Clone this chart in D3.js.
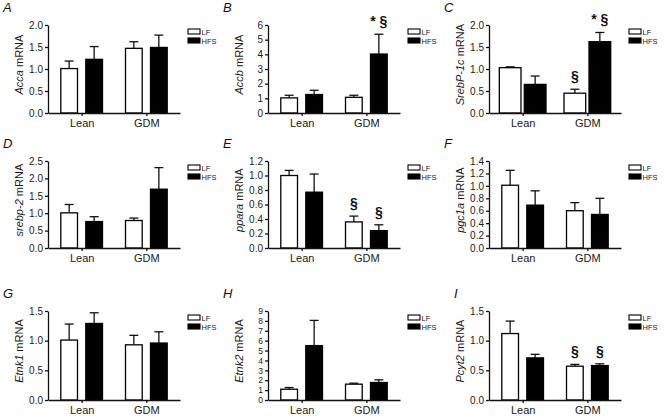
<!DOCTYPE html>
<html>
<head>
<meta charset="utf-8">
<script src="https://cdn.jsdelivr.net/npm/d3@7"></script>
<style>
  body { margin: 0; background: #fff; }
  svg { font-family: "Liberation Sans", Arial, sans-serif; }
  .axis path, .axis line { stroke: #111; stroke-width: 1.3; }
  .axis text { fill: #1a1a1a; font-size: 10px; }
</style>
</head>
<body>
<div id="viz"></div>
<script>
// chart values
var letters = ['A', 'B', 'C', 'D', 'E', 'F', 'G', 'H', 'I'];
var genes = ['Acca', 'Accb', 'SrebP-1c', 'srebp-2', 'ppara', 'pgc1a', 'Etnk1', 'Etnk2', 'Pcyt2'];
var groups = ['Lean', 'GDM'];
var series = ['LF', 'HFS'];
var yMax = [2, 6, 2, 2.5, 1.2, 1.4, 1.5, 9, 1.5];
var yStep = [0.5, 1, 0.5, 0.5, 0.2, 0.2, 0.5, 1, 0.5];
var yFmt = ['.1f', 'd', '.1f', '.1f', '.1f', '.1f', '.1f', 'd', '.1f'];

// [Lean, GDM] for each panel
var lfMean = [[1.01, 1.47], [1.03, 1.07], [1.03, 0.45], [1.01, 0.79], [1.0, 0.36], [1.01, 0.60], [1.01, 0.93], [1.09, 1.60], [1.12, 0.57]];
var lfSem  = [[0.17, 0.15], [0.18, 0.14], [0.02, 0.09], [0.24, 0.07], [0.07, 0.08], [0.24, 0.13], [0.27, 0.16], [0.17, 0.10], [0.21, 0.03]];
var hfsMean = [[1.22, 1.49], [1.26, 4.02], [0.65, 1.62], [0.76, 1.69], [0.77, 0.24], [0.69, 0.54], [1.29, 0.96], [5.5, 1.77], [0.71, 0.58]];
var hfsSem  = [[0.29, 0.28], [0.29, 1.35], [0.19, 0.21], [0.14, 0.62], [0.25, 0.08], [0.23, 0.26], [0.18, 0.19], [2.55, 0.27], [0.06, 0.03]];

// significance marks: [panel, group, series, text]
var marks = [
  [1, 'GDM', 'HFS', '* §'],
  [2, 'GDM', 'LF', '§'],
  [2, 'GDM', 'HFS', '* §'],
  [4, 'GDM', 'LF', '§'],
  [4, 'GDM', 'HFS', '§'],
  [8, 'GDM', 'LF', '§'],
  [8, 'GDM', 'HFS', '§']
];

var W = 665, H = 417;
var colX = [48, 268, 489];
var rowY = [[25, 113], [161, 248], [311, 400]];
var plotW = 132;

var svg = d3.select('#viz').append('svg')
  .attr('width', W)
  .attr('height', H);

letters.forEach(function(letter, i) {
  var x0 = colX[i % 3],
      yTop = rowY[Math.floor(i / 3)][0],
      yBot = rowY[Math.floor(i / 3)][1];
  var bw = i === 2 ? 23 : 18,
      gap = i === 2 ? 2 : 7;

  var g = svg.append('g');

  var xScale = d3.scalePoint()
    .domain(groups)
    .range([x0, x0 + plotW])
    .padding(0.52);

  var yScale = d3.scaleLinear()
    .domain([0, yMax[i]])
    .range([yBot, yTop]);

  var barX = function(grp, s) {
    var c = xScale(grp);
    return s === 'LF' ? c - gap / 2 - bw : c + gap / 2;
  };

  var rows = [];
  groups.forEach(function(grp, gi) {
    rows.push({ grp: grp, s: 'LF', v: lfMean[i][gi], e: lfSem[i][gi] });
    rows.push({ grp: grp, s: 'HFS', v: hfsMean[i][gi], e: hfsSem[i][gi] });
  });

  // error bars (upper whisker only)
  var err = g.selectAll('.err').data(rows).enter().append('g')
    .attr('stroke', '#111')
    .attr('stroke-width', 1.3);
  err.append('line')
    .attr('x1', function(d) { return barX(d.grp, d.s) + bw / 2; })
    .attr('x2', function(d) { return barX(d.grp, d.s) + bw / 2; })
    .attr('y1', function(d) { return yScale(d.v); })
    .attr('y2', function(d) { return yScale(d.v + d.e); });
  err.append('line')
    .attr('x1', function(d) { return barX(d.grp, d.s) + bw / 2 - 4.5; })
    .attr('x2', function(d) { return barX(d.grp, d.s) + bw / 2 + 4.5; })
    .attr('y1', function(d) { return yScale(d.v + d.e); })
    .attr('y2', function(d) { return yScale(d.v + d.e); });

  g.selectAll('rect.bar').data(rows).enter().append('rect')
    .attr('class', 'bar')
    .attr('x', function(d) { return barX(d.grp, d.s) + 0.65; })
    .attr('width', bw - 1.3)
    .attr('y', function(d) { return yScale(d.v); })
    .attr('height', function(d) { return yBot - yScale(d.v); })
    .attr('fill', function(d) { return d.s === 'LF' ? '#fff' : '#000'; })
    .attr('stroke', '#000')
    .attr('stroke-width', 1.3);

  // axes
  var ticks = d3.range(0, yMax[i] + yStep[i] / 2, yStep[i]);
  var yAx = g.append('g')
    .attr('class', 'axis')
    .attr('transform', 'translate(' + x0 + ',0)')
    .call(d3.axisLeft(yScale)
      .tickValues(ticks)
      .tickSize(3)
      .tickSizeOuter(0)
      .tickPadding(2)
      .tickFormat(d3.format(yFmt[i])));
  // dense 0-9 scale needs smaller labels
  if (ticks.length > 8) yAx.selectAll('text').style('font-size', '8.5px');

  var xAx = g.append('g')
    .attr('class', 'axis')
    .attr('transform', 'translate(0,' + yBot + ')')
    .call(d3.axisBottom(xScale)
      .tickSize(3)
      .tickSizeOuter(0)
      .tickPadding(3));
  xAx.selectAll('text').style('font-size', '11px');

  // y label
  var lab = g.append('text')
    .attr('transform', 'translate(' + (x0 - 25) + ',' + (yTop + (yBot - yTop) * 0.45) + ') rotate(-90)')
    .attr('text-anchor', 'middle')
    .style('font-size', '11px')
    .attr('fill', '#1a1a1a');
  lab.append('tspan').style('font-style', 'italic').text(genes[i]);
  lab.append('tspan').text(' mRNA');

  // panel letter
  g.append('text')
    .attr('x', x0 - 45 + (i === 8 ? 10 : 0))
    .attr('y', yTop - 13)
    .style('font-size', '13px')
    .style('font-style', 'italic')
    .attr('fill', '#111')
    .text(letter);

  // legend
  var lx = x0 + 140, ly = yTop + 4;
  series.forEach(function(s, si) {
    g.append('rect')
      .attr('x', lx)
      .attr('y', ly + si * 9)
      .attr('width', 12)
      .attr('height', 5)
      .attr('fill', s === 'LF' ? '#fff' : '#000')
      .attr('stroke', '#000')
      .attr('stroke-width', 1.1);
    g.append('text')
      .attr('x', lx + 13.5)
      .attr('y', ly + si * 9 + 5.5)
      .style('font-size', '7.5px')
      .attr('fill', '#1a1a1a')
      .text(s);
  });

  // significance marks
  marks.filter(function(m) { return m[0] === i; }).forEach(function(m) {
    var gi = groups.indexOf(m[1]);
    var top = m[2] === 'LF' ? lfMean[i][gi] + lfSem[i][gi] : hfsMean[i][gi] + hfsSem[i][gi];
    g.append('text')
      .attr('x', barX(m[1], m[2]) + bw / 2)
      .attr('y', yScale(top) - 8)
      .attr('text-anchor', 'middle')
      .style('font-size', '14px')
      .style('font-weight', 'bold')
      .attr('fill', '#111')
      .text(m[3]);
  });
});
</script>
</body>
</html>
